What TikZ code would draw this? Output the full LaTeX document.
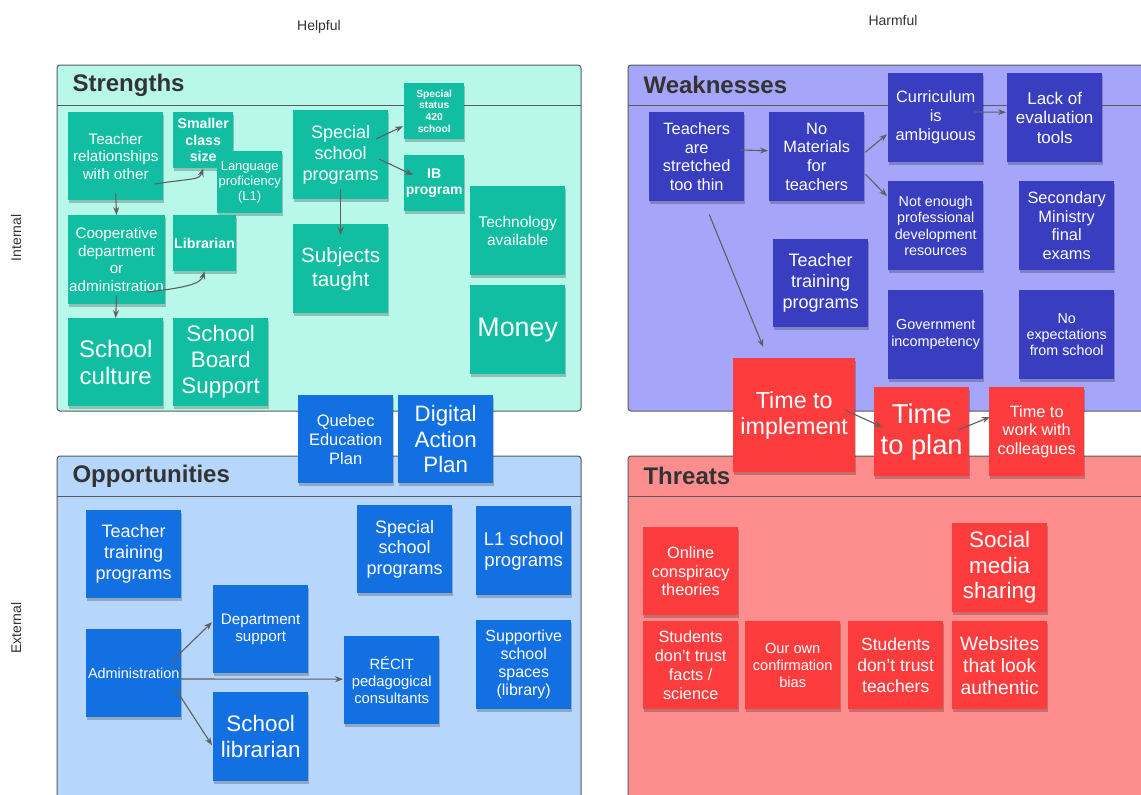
\documentclass[tikz,border=0pt]{standalone}
\usepackage{fontspec}
\setmainfont{Liberation Sans}
\usetikzlibrary{calc,shadows,arrows.meta}
\definecolor{sBg}{RGB}{183,248,234}
\definecolor{wBg}{RGB}{165,166,250}
\definecolor{oBg}{RGB}{182,214,251}
\definecolor{tBg}{RGB}{254,142,142}
\definecolor{tealN}{RGB}{18,190,162}
\definecolor{navyN}{RGB}{57,62,193}
\definecolor{blueN}{RGB}{18,112,226}
\definecolor{redN}{RGB}{253,60,62}
\definecolor{frameC}{RGB}{90,90,90}
\definecolor{headC}{RGB}{51,51,51}
\definecolor{arrC}{RGB}{95,95,95}
\tikzset{
  note/.style={rectangle, anchor=north west, inner sep=1pt, align=center, text=white,
    drop shadow={shadow xshift=1.2pt, shadow yshift=-2.5pt, opacity=0.22, fill=black}},
  sz/.style 2 args={minimum width=#1pt, minimum height=#2pt},
  fs/.style 2 args={font=\fontsize{#1}{#2}\selectfont},
  fb/.style 2 args={font=\bfseries\fontsize{#1}{#2}\selectfont},
  tl/.style={note, fill=tealN},
  nv/.style={note, fill=navyN},
  bl/.style={note, fill=blueN},
  rd/.style={note, fill=redN},
  quad/.style={draw=frameC, line width=1pt, rounded corners=3pt},
  hline/.style={draw=frameC, line width=1pt},
  head/.style={anchor=west, text=headC, font=\bfseries\fontsize{24}{28}\selectfont},
  side/.style={text=headC, font=\fontsize{14}{16}\selectfont},
  conn/.style={draw=arrC, line width=1.1pt, -{Stealth[length=8pt,width=6pt]}}
}
\begin{document}
\begin{tikzpicture}[x=1pt,y=-1pt]
\useasboundingbox (0,0) rectangle (1141,795);
\clip (0,0) rectangle (1141,795);
\fill[white] (0,0) rectangle (1141,795);
% labels
\node[side] (helpful) at (319,27) {Helpful};
\node[side] (harmful) at (893,20) {Harmful};
\node[side, rotate=90] (internal) at (16,238) {Internal};
\node[side, rotate=90] (external) at (16,628) {External};
% quadrants
\path[quad, fill=sBg] (57,65) rectangle (581,411);
\draw[hline] (57,105) -- (581,105);
\path[quad, fill=wBg] (628,65) rectangle (1160,411);
\draw[hline] (628,105) -- (1160,105);
\path[quad, fill=oBg] (57,456) rectangle (581,820);
\draw[hline] (57,496) -- (581,496);
\path[quad, fill=tBg] (628,456) rectangle (1160,820);
\draw[hline] (628,496) -- (1160,496);
\node[head] (hS) at (69,85) {Strengths};
\node[head] (hW) at (640,85) {Weaknesses};
\node[head] (hO) at (69,476) {Opportunities};
\node[head] (hT) at (640,476) {Threats};
% Strengths
\node[tl, sz={95}{88}, fs={15.2}{17.5}] (tr) at (68,112) {Teacher\\relationships\\with other};
\node[tl, sz={60}{56}, fb={14.2}{16.5}] (scs) at (173,112) {Smaller\\class\\size};
\node[tl, sz={65}{62}, fs={13}{15}] (lang) at (217,151) {Language\\proficiency\\(L1)};
\node[tl, sz={95}{89}, fs={15.2}{17.7}] (coop) at (68,215) {Cooperative\\department\\or\\administration};
\node[tl, sz={60}{56}, fb={14.2}{16.5}] (lib) at (173,215) {Librarian};
\node[tl, sz={95}{88}, fs={24}{27.5}] (sc) at (68,318) {School\\culture};
\node[tl, sz={95}{88}, fs={22.4}{26}] (sbs) at (173,318) {School\\Board\\Support};
\node[tl, sz={95}{89}, fs={18}{21}] (ssp) at (293,110) {Special\\school\\programs};
\node[tl, sz={60}{56}, fb={10.2}{11.8}] (s420) at (404,83) {Special\\status\\420\\school};
\node[tl, sz={60}{56}, fb={14}{16.5}] (ib) at (404,155) {IB\\program};
\node[tl, sz={95}{89}, fs={20.6}{24}] (subj) at (293,224) {Subjects\\taught};
\node[tl, sz={95}{89}, fs={15.5}{18}] (tech) at (470,186) {Technology\\available};
\node[tl, sz={95}{89}, fs={26.8}{30}] (money) at (470,285) {Money};
% Weaknesses
\node[nv, sz={95}{89}, fs={16.4}{18.8}] (ts) at (649,112) {Teachers\\are\\stretched\\too thin};
\node[nv, sz={95}{89}, fs={16.4}{18.8}] (nm) at (769,112) {No\\Materials\\for\\teachers};
\node[nv, sz={95}{89}, fs={16.4}{19}] (cur) at (888,73) {Curriculum\\is\\ambiguous};
\node[nv, sz={95}{89}, fs={17}{19.5}] (lack) at (1007,73) {Lack of\\evaluation\\tools};
\node[nv, sz={95}{89}, fs={14.3}{16.4}] (ne) at (888,181) {Not enough\\professional\\development\\resources};
\node[nv, sz={95}{89}, fs={16.4}{18.7}] (sec) at (1019,181) {Secondary\\Ministry\\final\\exams};
\node[nv, sz={95}{88}, fs={18}{21}] (wtt) at (773,239) {Teacher\\training\\programs};
\node[nv, sz={95}{89}, fs={14.4}{17}] (gov) at (888,290) {Government\\incompetency};
\node[nv, sz={95}{89}, fs={14.3}{16.3}] (noexp) at (1019,290) {No\\expectations\\from school};
% Threats
\node[rd, sz={95}{88}, fs={16.3}{18.7}] (oc) at (643,527) {Online\\conspiracy\\theories};
\node[rd, sz={95}{88}, fs={16.3}{18.7}] (sdf) at (643,621) {Students\\don't trust\\facts /\\science};
\node[rd, sz={95}{88}, fs={14.6}{16.8}] (ocb) at (745,621) {Our own\\confirmation\\bias};
\node[rd, sz={95}{88}, fs={17.5}{20.8}] (sdt) at (848,621) {Students\\don't trust\\teachers};
\node[rd, sz={95}{89}, fs={22.4}{25.5}] (smc) at (952,523) {Social\\media\\sharing};
\node[rd, sz={95}{88}, fs={19.3}{22}] (web) at (952,621) {Websites\\that look\\authentic};
% Time notes
\node[rd, sz={122}{114}, fs={23.3}{26}] (tti) at (733,358) {Time to\\implement};
\node[rd, sz={95}{89}, fs={27.3}{31}] (ttpl) at (874,387) {Time\\to plan};
\node[rd, sz={95}{89}, fs={16.3}{18.7}] (ttw) at (989,387) {Time to\\work with\\colleagues};
% Opportunities
\node[bl, sz={95}{88}, fs={18}{21}] (otp) at (86,510) {Teacher\\training\\programs};
\node[bl, sz={95}{88}, fs={14.4}{17}] (adm) at (86,629) {Administration};
\node[bl, sz={95}{88}, fs={15.2}{17.5}] (dep) at (213,585) {Department\\support};
\node[bl, sz={95}{89}, fs={22.4}{25.5}] (slib) at (213,692) {School\\librarian};
\node[bl, sz={95}{88}, fs={14.8}{17}] (recit) at (344,636) {RÉCIT\\pedagogical\\consultants};
\node[bl, sz={95}{88}, fs={18}{20.5}] (osp) at (357,505) {Special\\school\\programs};
\node[bl, sz={95}{89}, fs={18.6}{21}] (l1) at (476,506) {L1 school\\programs};
\node[bl, sz={95}{89}, fs={16}{18}] (sup) at (476,620) {Supportive\\school\\spaces\\(library)};
% central plans
\node[bl, sz={95}{88}, fs={16.5}{19}] (qep) at (298,395) {Quebec\\Education\\Plan};
\node[bl, sz={95}{88}, fs={22.3}{25.5}] (dap) at (398,395) {Digital\\Action\\Plan};
% connectors - Strengths
\draw[conn] ($(tr.north west)+(87,72)$) .. controls ($(tr.north west)+(125,66)$) and ($(scs.south)+(-4,12)$) .. (scs.south);
\draw[conn] ($(tr.south)+(0,-7)$) -- (coop.north);
\draw[conn] ($(coop.north west)+(79,77)$) .. controls ($(coop.north west)+(115,73)$) and ($(lib.south)+(-4,13)$) .. (lib.south);
\draw[conn] ($(coop.south)+(0,-9)$) -- (sc.north);
\draw[conn] ($(ssp.north west)+(83,29)$) -- ($(s420.west)+(-1,15)$);
\draw[conn] ($(ssp.north west)+(86,49)$) -- ($(ib.north west)+(9,20)$);
\draw[conn] ($(ssp.south)+(0,-10)$) -- ($(subj.north)+(0,11)$);
% connectors - Weaknesses
\draw[conn] ($(ts.north west)+(91,38)$) -- ($(nm.west)+(-1,-6)$);
\draw[conn] ($(nm.east)+(1,-4.5)$) -- ($(cur.west)+(-1,16.5)$);
\draw[conn] ($(nm.east)+(1,17.5)$) -- ($(ne.west)+(-1,-29.5)$);
\draw[conn] ($(cur.north west)+(86,39)$) -- ($(lack.west)+(-1,-5.5)$);
\draw[conn] ($(ts.south)+(12.5,13)$) -- ($(tti.north)+(-31,-11)$);
\draw[conn] ($(tti.north west)+(112,52)$) -- ($(ttpl.north west)+(8,40)$);
\draw[conn] ($(ttpl.north west)+(84,43)$) -- ($(ttw.north west)+(1,30)$);
% connectors - Opportunities
\draw[conn] ($(adm.north west)+(84,34)$) -- ($(dep.west)+(-1,-7)$);
\draw[conn] ($(adm.north west)+(94,50)$) -- ($(recit.west)+(-1,-1)$);
\draw[conn] ($(adm.north west)+(89,59)$) -- ($(slib.west)+(-1,8.5)$);
\end{tikzpicture}
\end{document}
